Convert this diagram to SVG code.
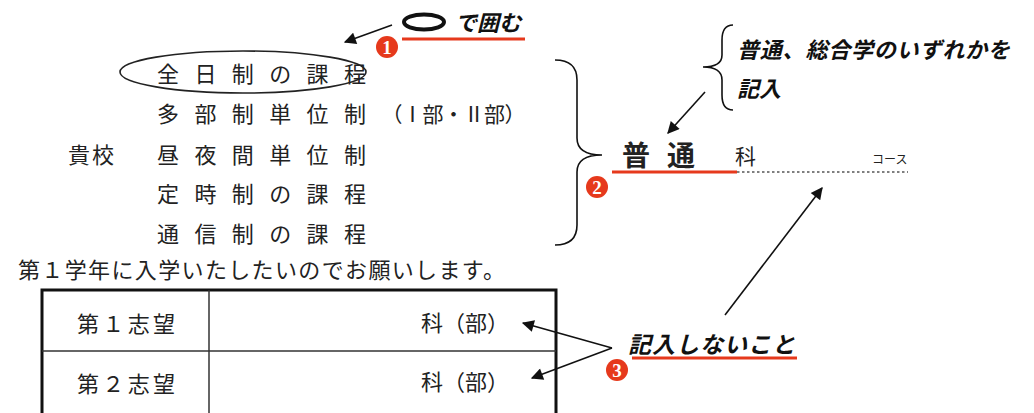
<svg xmlns="http://www.w3.org/2000/svg" width="1034" height="413" viewBox="0 0 1034 413">
<defs>
<style>
.j{font-family:"Noto Sans CJK JP","Noto Sans CJK SC",sans-serif;fill:#222;}
.it{font-family:"Noto Sans CJK JP","Noto Sans CJK SC",sans-serif;font-style:italic;font-weight:bold;fill:#111;}
.ln{stroke:#111;stroke-width:1.6;fill:none;}
.red{stroke:#e6391c;stroke-width:3;fill:none;}
.badge{fill:#e6391c;}
.num{font-family:"Liberation Serif",serif;font-weight:bold;font-size:19px;fill:#fff;text-anchor:middle;}
</style>
<marker id="ahb" viewBox="0 0 10 10" refX="9" refY="5" markerWidth="14" markerHeight="12" markerUnits="userSpaceOnUse" orient="auto">
<path d="M0,0 L10,5 L0,10 z" fill="#111"/>
</marker>
</defs>

<g id="note1">
<ellipse cx="424" cy="22" rx="20" ry="7.5" fill="none" stroke="#111" stroke-width="4"/>
<text class="it" x="455" y="31" font-size="22">で囲む</text>
<line class="red" x1="402" y1="39" x2="525" y2="39"/>
<circle class="badge" cx="387" cy="47" r="11"/>
<text class="num" x="387" y="54">1</text>
</g>

<g id="courses">
<ellipse cx="243" cy="72" rx="123" ry="21" fill="none" stroke="#222" stroke-width="1.6"/>
<text class="j" x="157" y="82" font-size="22" letter-spacing="15.4">全日制の課程</text>
<text class="j" x="157" y="122" font-size="22" letter-spacing="15.4">多部制単位制<tspan letter-spacing="-0.5" font-size="21">（Ⅰ部・Ⅱ部）</tspan></text>
<text class="j" x="68" y="163" font-size="22" letter-spacing="2">貴校</text>
<text class="j" x="157" y="163" font-size="22" letter-spacing="15.4">昼夜間単位制</text>
<text class="j" x="157" y="202" font-size="22" letter-spacing="15.4">定時制の課程</text>
<text class="j" x="157" y="242" font-size="22" letter-spacing="15.4">通信制の課程</text>
</g>

<g id="brace-big">
<path class="ln" d="M555,60 Q577,60 577,80 L577,138 Q577,155 602,155 Q577,155 577,172 L577,225 Q577,245 555,245"/>
</g>

<g id="note-type">
<path class="ln" d="M733,25 Q722,25 722,40 L722,55 Q722,67 703,67 Q722,67 722,80 L722,95 Q722,110 733,110"/>
<text class="it" x="737" y="58" font-size="22" letter-spacing="0.8">普通、総合学のいずれかを</text>
<text class="it" x="737" y="97" font-size="22">記入</text>
</g>

<g id="field">
<text class="j" x="622" y="166" font-size="28" font-weight="bold" letter-spacing="17">普通</text>
<text class="j" x="735" y="164" font-size="21">科</text>
<text class="j" x="872" y="164" font-size="12">コース</text>
<line class="red" x1="612" y1="172" x2="737" y2="172"/>
<line x1="737" y1="172" x2="908" y2="172" stroke="#555" stroke-width="1.5" stroke-dasharray="2.5,2.5"/>
<circle class="badge" cx="597" cy="187" r="11"/>
<text class="num" x="597" y="194">2</text>
</g>

<g id="request">
<text class="j" x="18" y="278" font-size="22" textLength="487" lengthAdjust="spacing">第１学年に入学いたしたいのでお願いします。</text>
</g>

<g id="table">
<rect x="42" y="290" width="514" height="140" fill="none" stroke="#111" stroke-width="3"/>
<line x1="209" y1="290" x2="209" y2="413" stroke="#333" stroke-width="1.5"/>
<line x1="42" y1="351" x2="556" y2="351" stroke="#333" stroke-width="1.5"/>
<text class="j" x="77" y="332" font-size="22" textLength="98" lengthAdjust="spacing">第１志望</text>
<text class="j" x="77" y="392" font-size="22" textLength="98" lengthAdjust="spacing">第２志望</text>
<text class="j" x="421" y="331" font-size="22">科（部）</text>
<text class="j" x="421" y="390" font-size="22">科（部）</text>
</g>

<g id="note3">
<text class="it" x="628" y="353" font-size="23" letter-spacing="1">記入しないこと</text>
<line class="red" x1="632" y1="358" x2="797" y2="358"/>
<circle class="badge" cx="617" cy="370" r="11"/>
<text class="num" x="617" y="377">3</text>
</g>

<g id="connectors">
<line class="ln" x1="392" y1="25" x2="345" y2="42" marker-end="url(#ahb)"/>
<line class="ln" x1="705" y1="92" x2="668" y2="133" marker-end="url(#ahb)"/>
<line class="ln" x1="725" y1="315" x2="822" y2="188" marker-end="url(#ahb)"/>
<line class="ln" x1="612" y1="348" x2="523" y2="323" marker-end="url(#ahb)"/>
<line class="ln" x1="612" y1="348" x2="532" y2="378" marker-end="url(#ahb)"/>
</g>
</svg>
